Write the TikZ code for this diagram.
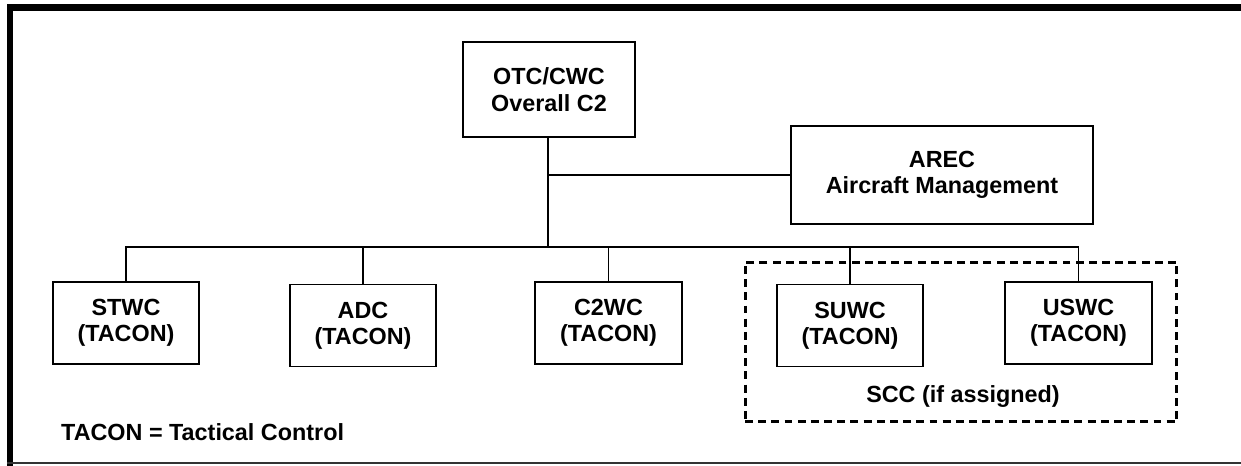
\documentclass[tikz,border=0pt]{standalone}
\usepackage{fontspec}
\setmainfont{Liberation Sans}

\begin{document}
\begin{tikzpicture}[x=0.02cm, y=-0.02cm,
  unit/.style={draw, line width=1.1pt, align=center, inner sep=0pt,
    font=\bfseries\fontsize{13.3}{15}\selectfont,
    minimum width=2.93cm, minimum height=1.64cm},
  wire/.style={line width=0.7pt}]
  \useasboundingbox (0,0) rectangle (1241,466);
  % page frame
  \draw[line width=3.7pt] (10,466) -- (10,7.5) -- (1241,7.5);
  \draw[line width=0.8pt, black!80] (7,463) -- (1241,463);
  % command boxes
  \node[unit, minimum width=3.44cm, minimum height=1.9cm] (otc) at (549,89.5) {OTC/CWC\\Overall C2};
  \node[unit, minimum width=6.04cm, minimum height=1.96cm] (arec) at (942,175) {AREC\\Aircraft Management};
  \node[unit] (stwc) at (126,323) {STWC\\(TACON)};
  \node[unit] (adc) at (363,325.5) {ADC\\(TACON)};
  \node[unit] (c2wc) at (608.5,323) {C2WC\\(TACON)};
  \node[unit] (suwc) at (850,325.5) {SUWC\\(TACON)};
  \node[unit] (uswc) at (1078.5,323) {USWC\\(TACON)};
  % sea combat group
  \node[draw, line width=1.7pt, dash pattern=on 4.5pt off 3pt,
    minimum width=8.64cm, minimum height=3.2cm] (scc) at (961,342) {};
  \node[font=\bfseries\fontsize{13.3}{15}\selectfont] (scclabel) at (963,397) {SCC (if assigned)};
  \node[font=\bfseries\fontsize{13.3}{15}\selectfont, anchor=west] (key) at (55,432) {TACON = Tactical Control};
  % lines
  \coordinate (bus) at (548,247);
  \draw[wire] (otc.south -| bus) -- (bus);
  \draw[wire] (bus |- arec.west) -- (arec.west);
  \draw[wire] (stwc.north) |- (bus) -| (uswc.north);
  \foreach \n in {adc,c2wc,suwc}
    \draw[wire] (\n.north) -- (\n.north |- bus);
\end{tikzpicture}
\end{document}
